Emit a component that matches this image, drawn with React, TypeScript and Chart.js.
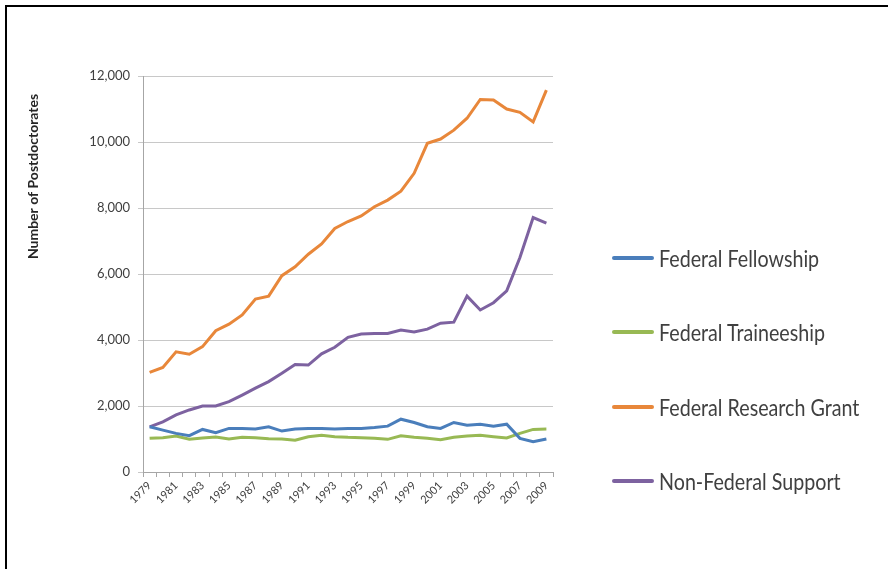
import React, { useEffect, useRef } from "react";
import { Chart, registerables } from "chart.js";

Chart.register(...registerables);

const years: string[] = [
  "1979", "1980", "1981", "1982", "1983", "1984", "1985", "1986", "1987", "1988",
  "1989", "1990", "1991", "1992", "1993", "1994", "1995", "1996", "1997", "1998",
  "1999", "2000", "2001", "2002", "2003", "2004", "2005", "2006", "2007", "2008", "2009",
];

const federalFellowship: number[] = [
  1370, 1270, 1170, 1100, 1290, 1190, 1320, 1320, 1300, 1370,
  1240, 1300, 1320, 1320, 1300, 1320, 1320, 1350, 1390, 1600,
  1500, 1370, 1320, 1500, 1420, 1450, 1390, 1450, 1020, 920, 1000,
];

const federalTraineeship: number[] = [
  1020, 1040, 1090, 990, 1030, 1060, 1000, 1050, 1040, 1010,
  1000, 960, 1070, 1110, 1070, 1050, 1040, 1020, 990, 1100,
  1050, 1020, 980, 1050, 1090, 1110, 1070, 1030, 1170, 1290, 1300,
];

const federalResearchGrant: number[] = [
  3020, 3170, 3640, 3570, 3800, 4280, 4480, 4760, 5240, 5330,
  5950, 6220, 6600, 6910, 7380, 7590, 7760, 8040, 8240, 8510,
  9050, 9960, 10090, 10360, 10720, 11290, 11270, 11000, 10900, 10610, 11570,
];

const nonFederalSupport: number[] = [
  1370, 1520, 1730, 1880, 2000, 2000, 2130, 2330, 2540, 2740,
  2990, 3260, 3240, 3580, 3780, 4080, 4180, 4200, 4200, 4300,
  4240, 4330, 4510, 4540, 5330, 4910, 5130, 5490, 6500, 7710, 7540,
];

const seriesLabels: string[] = [
  "Federal Fellowship",
  "Federal Traineeship",
  "Federal Research Grant",
  "Non-Federal Support",
];
const seriesValues: number[][] = [
  federalFellowship,
  federalTraineeship,
  federalResearchGrant,
  nonFederalSupport,
];
const seriesColors: string[] = ["#4A7EBB", "#98B954", "#E8873A", "#7D62A0"];

const yAxisTitle = "Number of Postdoctorates";
const yMin = 0;
const yMax = 12000;
const yStep = 2000;

const yTitlePlugin = {
  id: "yTitlePlugin",
  afterDraw(chart: any) {
    const c = chart.ctx as CanvasRenderingContext2D;
    c.save();
    c.translate(33.5, 176.5);
    c.rotate(-Math.PI / 2);
    c.font = "bold 14px Lato";
    c.fillStyle = "#262626";
    c.textAlign = "center";
    c.textBaseline = "middle";
    c.fillText(yAxisTitle, 0, 0);
    c.restore();
  },
};

export default function App() {
  const ref = useRef<HTMLCanvasElement>(null);

  useEffect(() => {
    const canvas = ref.current;
    if (!canvas) return;
    const chart = new Chart(canvas, {
      type: "line",
      data: {
        labels: years,
        datasets: seriesValues.map((d, i) => ({
          label: seriesLabels[i],
          data: d,
          borderColor: seriesColors[i],
          backgroundColor: seriesColors[i],
          borderWidth: 3,
          pointRadius: 0,
          tension: 0,
          fill: false,
        })),
      },
      options: {
        responsive: false,
        animation: false,
        devicePixelRatio: 1,
        layout: { padding: { left: 0, top: 76, right: 335, bottom: 0 } },
        plugins: {
          legend: { display: false },
          tooltip: { enabled: false },
        },
        scales: {
          x: {
            type: "category",
            offset: true,
            grid: {
              offset: true,
              drawOnChartArea: false,
              drawTicks: true,
              tickLength: 5,
              color: "#a6a6a6",
            },
            border: { color: "#a6a6a6", width: 1 },
            ticks: {
              autoSkip: false,
              maxRotation: 45,
              minRotation: 45,
              padding: 2,
              color: "#404040",
              font: { family: "Lato", size: 11 },
              callback: (_v: any, i: number) => (i % 2 === 0 ? years[i] : ""),
            },
            afterFit: (s: any) => {
              s.height = 97;
            },
          },
          y: {
            min: yMin,
            max: yMax,
            ticks: {
              stepSize: yStep,
              padding: 8,
              color: "#404040",
              font: { family: "Lato", size: 13 },
              callback: (v: any) => Number(v).toLocaleString("en-US"),
            },
            grid: { color: "#c8c8c8", tickLength: 5, drawTicks: true },
            border: { color: "#a6a6a6", width: 1 },
            afterFit: (s: any) => {
              s.width = 143;
            },
          },
        },
      },
      plugins: [yTitlePlugin],
    });
    return () => chart.destroy();
  }, []);

  return (
    <div
      style={{
        position: "fixed",
        left: 0,
        top: 0,
        width: 888,
        height: 569,
        background: "#fff",
        overflow: "hidden",
      }}
    >
      <canvas ref={ref} width={888} height={569} style={{ position: "absolute", left: 0, top: 0 }} />
      <div
        style={{
          position: "absolute",
          left: 5,
          top: 5,
          width: 900,
          height: 600,
          borderTop: "2px solid #000",
          borderLeft: "2px solid #000",
          pointerEvents: "none",
        }}
      />
      {seriesLabels.map((lab, i) => (
        <div key={lab}>
          <div
            style={{
              position: "absolute",
              left: 612,
              top: 257.5 + 74.5 * i - 2,
              width: 42,
              height: 4,
              borderRadius: 2,
              background: seriesColors[i],
            }}
          />
          <div
            style={{
              position: "absolute",
              left: 659,
              top: 257.5 + 74.5 * i - 15,
              height: 30,
              lineHeight: "30px",
              fontFamily: "Lato",
              fontSize: 24,
              color: "#404040",
              whiteSpace: "nowrap",
              transform: "scaleX(0.82)",
              transformOrigin: "left center",
            }}
          >
            {lab}
          </div>
        </div>
      ))}
    </div>
  );
}
